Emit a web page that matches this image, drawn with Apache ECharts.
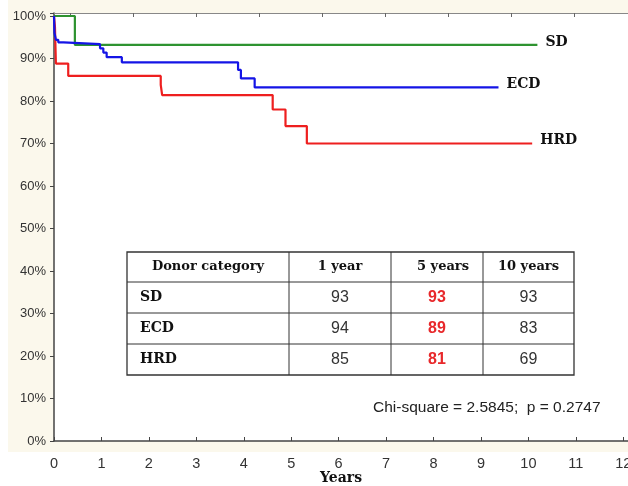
<!DOCTYPE html>
<html>
<head>
<meta charset="utf-8">
<script src="https://cdn.jsdelivr.net/npm/echarts@6/dist/echarts.min.js"></script>
<style>
  html, body { margin: 0; padding: 0; background: #fff; }
  #chart { width: 628px; height: 486px; }
</style>
</head>
<body>
<div id="chart"></div>
<script>
// Curvas de supervivencia (años, %)
const sdTime = [0, 0.44, 10.19];
const sdSurv = [100, 93.2, 93.2];
const ecdTime = [0, 0.01, 0.04, 0.09, 0.2, 0.97, 1.04, 1.11, 1.43, 3.88, 3.94, 4.23, 9.37];
const ecdSurv = [100, 96, 94.4, 93.8, 93.4, 92.4, 91.4, 90.3, 89.1, 87.3, 85.3, 83.2, 83.2];
const hrdTime = [0, 0.02, 0.04, 0.3, 2.25, 2.28, 4.61, 4.88, 5.33, 10.08];
const hrdSurv = [100, 97.5, 88.8, 85.9, 83.8, 81.4, 78.0, 74.1, 70.0, 70.0];

// Tabla
const tableHeader = ["Donor category", "1 year", "5 years", "10 years"];
const tableRows = ["SD", "ECD", "HRD"];
const year1 = [93, 94, 85];
const year5 = [93, 89, 81];
const year10 = [93, 83, 69];
const statText = "Chi-square = 2.5845;  p = 0.2747";

// Marcas del eje superior (escala propia)
const topTicks = [0.254, 1.254, 2.254, 3.254, 4.254, 5.254, 6.254, 7.254, 8.254];

const zip = (t, s) => t.map((v, i) => [v, s[i]]);

const SERIF = '"DejaVu Serif", serif';
const SANS = '"Liberation Sans", Arial, sans-serif';

// Tabla dibujada con graphic
const colX = [127, 289, 391, 483, 574];
const rowY = [252, 282, 313, 344, 375];
const tableEls = [];
tableEls.push({
  type: "rect",
  shape: { x: colX[0], y: rowY[0], width: colX[4] - colX[0], height: rowY[4] - rowY[0] },
  style: { fill: "#fff", stroke: "#333", lineWidth: 1.3 },
  z: 10
});
colX.slice(1, 4).forEach((x) => {
  tableEls.push({ type: "line", shape: { x1: x, y1: rowY[0], x2: x, y2: rowY[4] }, style: { stroke: "#333", lineWidth: 1 }, z: 11 });
});
rowY.slice(1, 4).forEach((y) => {
  tableEls.push({ type: "line", shape: { x1: colX[0], y1: y, x2: colX[4], y2: y }, style: { stroke: "#333", lineWidth: 1 }, z: 11 });
});
const txt = (text, x, y, font, fill, align) => ({
  type: "text",
  z: 12,
  style: { text, x, y, font, fill, align, verticalAlign: "middle", textAlign: align, textVerticalAlign: "middle" }
});
tableHeader.forEach((h, i) => {
  // "5 years" va un poco a la derecha en el original
  const cx = (colX[i] + colX[i + 1]) / 2 + (i === 2 ? 6 : 0);
  tableEls.push(txt(h, cx, (rowY[0] + rowY[1]) / 2, "bold 13px " + SERIF, "#111", "center"));
});
tableRows.forEach((r, j) => {
  const cy = (rowY[j + 1] + rowY[j + 2]) / 2;
  tableEls.push(txt(r, 140, cy, "bold 14px " + SERIF, "#111", "left"));
  tableEls.push(txt(String(year1[j]), (colX[1] + colX[2]) / 2, cy, "16px " + SANS, "#333", "center"));
  tableEls.push(txt(String(year5[j]), (colX[2] + colX[3]) / 2, cy, "bold 16px " + SANS, "#e8282b", "center"));
  tableEls.push(txt(String(year10[j]), (colX[3] + colX[4]) / 2, cy, "16px " + SANS, "#333", "center"));
});

const chart = echarts.init(document.getElementById("chart"));

const endLabel = {
  show: true,
  formatter: "{a}",
  distance: 8,
  offset: [0, -3],
  fontFamily: SERIF,
  fontWeight: "bold",
  fontSize: 14,
  color: "#111"
};

const option = {
  animation: false,
  backgroundColor: "#fff",
  graphic: [
    {
      type: "rect",
      shape: { x: 8, y: 0, width: 620, height: 452 },
      style: { fill: "#fbf8ec" },
      z: -10,
      silent: true
    },
    {
      type: "text",
      z: 12,
      style: {
        text: statText, x: 373, y: 408, font: "15.5px " + SANS, fill: "#222",
        align: "left", verticalAlign: "middle", textAlign: "left", textVerticalAlign: "middle"
      }
    },
    ...tableEls
  ],
  grid: {
    left: 54,
    right: 0,
    top: 13,
    bottom: 45,
    outerBoundsMode: "none",
    containLabel: false,
    show: true,
    backgroundColor: "#fff",
    borderWidth: 0
  },
  xAxis: [
    {
      type: "value",
      min: 0,
      max: 12.1,
      interval: 1,
      axisLine: { lineStyle: { color: "#444", width: 1.5 } },
      axisTick: { inside: true, length: 4, lineStyle: { color: "#444" } },
      axisLabel: {
        margin: 15,
        fontSize: 14.5,
        fontFamily: SANS,
        color: "#333",
        formatter: (v) => (Number.isInteger(v) ? String(v) : "")
      },
      splitLine: { show: false },
      name: "Years",
      nameLocation: "middle",
      nameGap: 30,
      nameMoveOverlap: false,
      nameTextStyle: { fontFamily: SERIF, fontWeight: "bold", fontSize: 14, color: "#111" }
    },
    {
      type: "value",
      position: "top",
      min: 0,
      max: 574 / 63,
      axisLine: { show: true, onZero: false, lineStyle: { color: "#888", width: 1 } },
      axisTick: { show: true, inside: true, length: 4, customValues: topTicks, lineStyle: { color: "#666" } },
      axisLabel: { show: false },
      splitLine: { show: false }
    }
  ],
  yAxis: {
    type: "value",
    min: 0,
    max: 100.7,
    interval: 10,
    axisLine: { show: true, lineStyle: { color: "#444", width: 1.5 } },
    axisTick: { show: true, length: 4, lineStyle: { color: "#444" } },
    axisLabel: {
      margin: 8,
      fontSize: 13,
      fontFamily: SANS,
      color: "#333",
      formatter: (v) => (v % 10 === 0 ? v + "%" : "")
    },
    splitLine: { show: false }
  },
  series: [
    {
      name: "SD",
      type: "line",
      step: "end",
      showSymbol: false,
      data: zip(sdTime, sdSurv),
      lineStyle: { color: "#2e9330", width: 2.2 },
      itemStyle: { color: "#2e9330" },
      endLabel
    },
    {
      name: "HRD",
      type: "line",
      step: "end",
      showSymbol: false,
      data: zip(hrdTime, hrdSurv),
      lineStyle: { color: "#ee1f1f", width: 2.2 },
      itemStyle: { color: "#ee1f1f" },
      endLabel
    },
    {
      name: "ECD",
      type: "line",
      step: "end",
      showSymbol: false,
      data: zip(ecdTime, ecdSurv),
      lineStyle: { color: "#1414e6", width: 2.2 },
      itemStyle: { color: "#1414e6" },
      endLabel
    }
  ]
};

chart.setOption(option);
</script>
</body>
</html>
